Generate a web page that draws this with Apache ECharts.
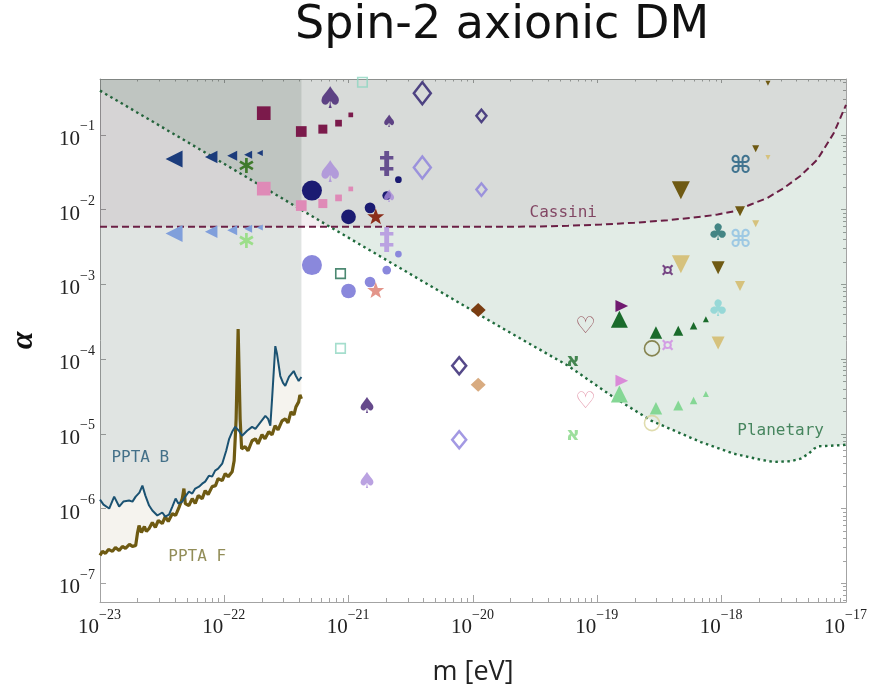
<!DOCTYPE html>
<html><head><meta charset="utf-8">
<script src="https://cdn.jsdelivr.net/npm/echarts@6/dist/echarts.min.js"></script>
<style>html,body{margin:0;padding:0;background:#fff}#c{width:873px;height:691px}</style>
</head><body><div id="c"></div>
<script>
// ---------------- data ----------------
const titleText = 'Spin-2 axionic DM';
const xRange = [1e-23, 1e-17];
const yRange = [5.62e-8, 0.558];

// curves, as [log10 m, log10 alpha]
const cassiniLog = [[-23.0,-2.231],[-21.0,-2.231],[-19.772,-2.231],[-19.504,-2.227],[-19.236,-2.217],[-18.969,-2.200],[-18.702,-2.177],[-18.434,-2.143],[-18.167,-2.097],[-18.033,-2.067],[-17.900,-2.023],[-17.766,-1.933],[-17.632,-1.844],[-17.499,-1.711],[-17.365,-1.547],[-17.231,-1.333],[-17.098,-0.977],[-17.0,-0.600]];
const planetaryLog = [[-23.0,-0.409],[-22.178,-1.213],[-21.175,-2.207],[-20.173,-3.187],[-19.772,-3.580],[-19.236,-4.089],[-18.889,-4.489],[-18.568,-4.823],[-18.167,-5.111],[-17.900,-5.267],[-17.686,-5.347],[-17.579,-5.377],[-17.445,-5.367],[-17.365,-5.333],[-17.301,-5.267],[-17.258,-5.200],[-17.221,-5.167],[-17.125,-5.160],[-17.0,-5.147]];
const pptaBLog = [[-23.000,-5.880],[-22.972,-5.947],[-22.926,-6.000],[-22.886,-5.840],[-22.846,-5.973],[-22.812,-5.907],[-22.766,-5.893],[-22.739,-5.907],[-22.713,-5.840],[-22.683,-5.787],[-22.659,-5.693],[-22.635,-5.827],[-22.605,-5.960],[-22.579,-6.027],[-22.539,-6.093],[-22.499,-6.053],[-22.475,-6.107],[-22.445,-6.080],[-22.418,-5.973],[-22.392,-5.867],[-22.370,-5.933],[-22.338,-5.907],[-22.314,-5.840],[-22.285,-5.773],[-22.258,-5.800],[-22.234,-5.733],[-22.204,-5.707],[-22.178,-5.667],[-22.154,-5.640],[-22.124,-5.560],[-22.098,-5.573],[-22.074,-5.493],[-22.050,-5.467],[-22.017,-5.400],[-21.985,-5.227],[-21.961,-5.067],[-21.937,-4.973],[-21.913,-4.907],[-21.883,-4.960],[-21.857,-5.027],[-21.817,-4.960],[-21.777,-4.907],[-21.750,-4.933],[-21.713,-4.853],[-21.670,-4.760],[-21.648,-4.800],[-21.630,-4.893],[-21.616,-4.533],[-21.590,-3.827],[-21.576,-3.933],[-21.550,-4.227],[-21.528,-4.320],[-21.510,-4.360],[-21.480,-4.240],[-21.442,-4.160],[-21.424,-4.227],[-21.402,-4.293],[-21.380,-4.240]];
const pptaFLog = [[-23.000,-6.627],[-22.980,-6.573],[-22.956,-6.600],[-22.932,-6.547],[-22.900,-6.573],[-22.876,-6.520],[-22.846,-6.560],[-22.820,-6.507],[-22.795,-6.533],[-22.763,-6.480],[-22.739,-6.507],[-22.713,-6.493],[-22.699,-6.333],[-22.686,-6.227],[-22.667,-6.320],[-22.643,-6.240],[-22.627,-6.307],[-22.605,-6.267],[-22.579,-6.187],[-22.555,-6.253],[-22.531,-6.160],[-22.499,-6.200],[-22.475,-6.107],[-22.451,-6.173],[-22.418,-6.067],[-22.392,-6.093],[-22.362,-5.973],[-22.338,-5.867],[-22.325,-5.733],[-22.314,-5.933],[-22.285,-5.960],[-22.258,-5.867],[-22.234,-5.933],[-22.210,-5.827],[-22.178,-5.867],[-22.154,-5.760],[-22.130,-5.813],[-22.098,-5.707],[-22.071,-5.693],[-22.050,-5.600],[-22.017,-5.627],[-21.993,-5.533],[-21.969,-5.573],[-21.937,-5.507],[-21.921,-5.360],[-21.905,-4.800],[-21.889,-3.600],[-21.873,-4.800],[-21.861,-5.200],[-21.833,-5.173],[-21.809,-5.227],[-21.777,-5.093],[-21.750,-5.067],[-21.729,-5.133],[-21.697,-5.013],[-21.673,-5.067],[-21.643,-4.973],[-21.616,-5.013],[-21.592,-4.893],[-21.568,-4.947],[-21.536,-4.827],[-21.510,-4.800],[-21.488,-4.853],[-21.464,-4.707],[-21.440,-4.747],[-21.424,-4.640],[-21.402,-4.573],[-21.392,-4.480],[-21.380,-4.533]];

// markers, as [m (eV), alpha]
const maroonSquares = [[2.075e-22,0.1947],[4.157e-22,0.1107],[6.20e-22,0.1191],[8.29e-22,0.1432],[1.04e-21,0.1848]];
const pinkSquares = [[2.075e-22,0.01905],[4.157e-22,0.01130],[6.20e-22,0.01202],[8.29e-22,0.01432],[1.04e-21,0.01888]];
const navyTriangles = [[3.94e-23,0.04742],[7.84e-23,0.05042],[1.156e-22,0.05248],[1.553e-22,0.05412],[1.928e-22,0.05702]];
const blueTriangles = [[3.94e-23,0.004786],[7.84e-23,0.005043],[1.156e-22,0.005297],[1.553e-22,0.005530],[1.928e-22,0.005754]];
const darkAsterisk = [[1.505e-22,0.03897]];
const lightAsterisk = [[1.505e-22,0.003860]];
const darkSpades = [[7.10e-22,0.2866],[2.111e-21,0.1459],[1.406e-21,2.270e-5]];
const lightSpades = [[7.10e-22,0.02929],[2.111e-21,0.01432],[1.406e-21,2.270e-6]];
const navyDiamonds = [[3.912e-21,0.3597],[1.169e-20,0.1792],[7.745e-21,8.141e-5]];
const lavenderDiamonds = [[3.912e-21,0.03664],[1.169e-20,0.01848],[7.745e-21,8.318e-6]];
const darkDagger = [[2.023e-21,0.03897]];
const lightDagger = [[2.023e-21,0.003778]];
const navyCircles = [[5.065e-22,0.01792],[9.97e-22,0.007989],[1.486e-21,0.01054],[2.023e-21,0.01537],[2.512e-21,0.02512]];
const lavenderCircles = [[5.065e-22,0.001808],[9.97e-22,0.0008141],[1.486e-21,0.001073],[2.023e-21,0.001551],[2.512e-21,0.002535]];
const brownStar = [[1.651e-21,0.008140]];
const salmonStar = [[1.651e-21,0.0008395]];
const darkOpenSquare = [[8.60e-22,0.001389]];
const tealOpenSquares = [[8.60e-22,1.389e-4],[1.291e-21,0.5043]];
const brownDiamond = [[1.101e-20,4.544e-4]];
const tanDiamond = [[1.101e-20,4.544e-5]];
const oliveDownTriangles = [[4.700e-19,0.01809],[9.363e-19,0.001669],[1.405e-18,0.009491],[1.878e-18,0.06506],[2.357e-18,0.4890]];
const tanDownTriangles = [[4.700e-19,0.001848],[9.363e-19,0.0001634],[1.405e-18,0.0009491],[1.878e-18,0.006446],[2.357e-18,0.04980]];
const darkCommand = [[1.424e-18,0.03778]];
const lightCommand = [[1.424e-18,0.003778]];
const darkClub = [[9.363e-19,0.004642]];
const lightClub = [[9.363e-19,4.544e-4]];
const darkCurrency = [[3.677e-19,0.001504]];
const lightCurrency = [[3.677e-19,1.504e-4]];
const purpleFlag = [[1.573e-19,5.137e-4]];
const pinkFlag = [[1.573e-19,5.137e-5]];
const darkUpTriangles = [[1.504e-19,3.413e-4],[2.962e-19,2.270e-4],[4.473e-19,2.384e-4],[5.942e-19,2.780e-4],[7.462e-19,3.413e-4]];
const lightUpTriangles = [[1.504e-19,3.413e-5],[2.962e-19,2.202e-5],[4.473e-19,2.384e-5],[5.942e-19,2.780e-5],[7.462e-19,3.413e-5]];
const darkHeart = [[8.025e-20,2.647e-4]];
const lightHeart = [[8.025e-20,2.696e-5]];
const oliveRing = [[2.751e-19,1.389e-4]];
const tanRing = [[2.751e-19,1.389e-5]];
const darkAleph = [[6.362e-20,9.491e-5]];
const lightAleph = [[6.362e-20,9.491e-6]];

const curveLabelTexts = ['Cassini', 'Planetary', 'PPTA B', 'PPTA F'];
const curveLabelAnchors = [[5.32e-20,0.00912],[2.98e-18,1.096e-5],[2.11e-23,4.79e-6],[6.05e-23,2.29e-7]];

// ---------------- styles ----------------
const C = {cassini: '#6b1f45', planetary: '#1f6b3c', pptaB: '#1b5272', pptaF: '#6e5a12'};
const curveLabelColors = [C.cassini, C.planetary, C.pptaB, '#77702e'];

const STAR = 'path://M0,-10L2.35,-3.24L9.51,-3.09L3.8,1.24L5.88,8.09L0,4L-5.88,8.09L-3.8,1.24L-9.51,-3.09L-2.35,-3.24Z';
const ASTER = 'path://M-9,-50L9,-50L9,50L-9,50Z M38.8,-32.8L47.8,-17.2L-38.8,32.8L-47.8,17.2Z M-47.8,-17.2L-38.8,-32.8L47.8,17.2L38.8,32.8Z';

const markerDefs = [
  {data: maroonSquares, symbol: 'rect', color: '#7b1a4b', sizes: [13.7,10.7,9,6.7,4.7]},
  {data: pinkSquares, symbol: 'rect', color: '#df8ab7', sizes: [13.7,10.7,9,6.7,4.7]},
  {data: navyTriangles, symbol: 'triangle', rotate: 90, color: '#1c3c7c', sizes: [17,12.5,10,8,6]},
  {data: blueTriangles, symbol: 'triangle', rotate: 90, color: '#809fdb', sizes: [17,12.5,10,8,6]},
  {data: darkAsterisk, symbol: ASTER, color: '#3f7a2c', sizes: [15]},
  {data: lightAsterisk, symbol: ASTER, color: '#9cde8a', sizes: [15]},
  {data: darkSpades, glyph: '\u2660', color: '#3f1b6e', sizes: [30,17,22]},
  {data: lightSpades, glyph: '\u2660', color: '#a98bd9', sizes: [30,17,22]},
  {data: navyDiamonds, symbol: 'diamond', open: true, border: 2.5, color: '#2b1b6b', sizes: [[17,22],[10,12.5],[14,17]]},
  {data: lavenderDiamonds, symbol: 'diamond', open: true, border: 2.5, color: '#8c80dc', sizes: [[17,22],[10,12.5],[14,17]]},
  {data: darkDagger, glyph: '\u2021', bold: true, color: '#4a2c7c', sizes: [30]},
  {data: lightDagger, glyph: '\u2021', bold: true, color: '#b090e0', sizes: [30]},
  {data: navyCircles, symbol: 'circle', color: '#1b1b72', sizes: [20,14.7,10.7,8.7,6.7]},
  {data: lavenderCircles, symbol: 'circle', color: '#8a88dc', sizes: [20,14.7,10.7,8.7,6.7]},
  {data: brownStar, symbol: STAR, color: '#8b2e1b', sizes: [17]},
  {data: salmonStar, symbol: STAR, color: '#e3958a', sizes: [17]},
  {data: darkOpenSquare, symbol: 'rect', open: true, border: 1.6, color: '#1f6b4f', sizes: [9.5]},
  {data: tealOpenSquares, symbol: 'rect', open: true, border: 1.6, color: '#8fd6c1', sizes: [9.5, 9.5]},
  {data: brownDiamond, symbol: 'diamond', color: '#7a3d12', sizes: [[15,14]]},
  {data: tanDiamond, symbol: 'diamond', color: '#d8ab80', sizes: [[15,14]]},
  {data: oliveDownTriangles, symbol: 'triangle', rotate: 180, color: '#6f5a13', sizes: [18,13,10,7,5]},
  {data: tanDownTriangles, symbol: 'triangle', rotate: 180, color: '#d6c27d', sizes: [18,13,10,7,5]},
  {data: darkCommand, glyph: '\u2318', bold: true, color: '#1b5a7d', sizes: [24]},
  {data: lightCommand, glyph: '\u2318', bold: true, color: '#8dc0e2', sizes: [24]},
  {data: darkClub, glyph: '\u2663', color: '#1b6b6b', sizes: [23]},
  {data: lightClub, glyph: '\u2663', color: '#85d3d3', sizes: [23]},
  {data: darkCurrency, glyph: '\u00a4', bold: true, color: '#5b1b6b', sizes: [20]},
  {data: lightCurrency, glyph: '\u00a4', bold: true, color: '#cf8ae3', sizes: [20]},
  {data: purpleFlag, symbol: 'triangle', rotate: -90, color: '#701a70', sizes: [[12,12.7]]},
  {data: pinkFlag, symbol: 'triangle', rotate: -90, color: '#da8ad8', sizes: [[12,12.7]]},
  {data: darkUpTriangles, symbol: 'triangle', color: '#1a6b2b', sizes: [17,12.5,10,7.5,6]},
  {data: lightUpTriangles, symbol: 'triangle', color: '#85d795', sizes: [17,12.5,10,7.5,6]},
  {data: darkHeart, glyph: '\u2661', bold: true, color: '#7a1b2b', sizes: [23]},
  {data: lightHeart, glyph: '\u2661', bold: true, color: '#dc7b93', sizes: [23]},
  {data: oliveRing, symbol: 'circle', open: true, border: 1.6, color: '#6f6a2b', sizes: [15]},
  {data: tanRing, symbol: 'circle', open: true, border: 1.6, color: '#d8d39a', sizes: [15]},
  {data: darkAleph, glyph: '\u05d0', bold: true, color: '#1b6b2b', sizes: [19]},
  {data: lightAleph, glyph: '\u05d0', bold: true, color: '#85d785', sizes: [19]}
];

// ---------------- build ----------------
// ECharts rounds tiny axis extents (1e-23) to zero, so the x scale works in units of M_UNIT eV.
const M_UNIT = 1e-23;
const M_UNIT_EXP = Math.round(Math.log10(M_UNIT));
const toPlot = p => [p[0] / M_UNIT, p[1]];
const fromLog = arr => arr.map(p => [Math.pow(10, p[0] - M_UNIT_EXP), Math.pow(10, p[1])]);

function curveSeries(name, logArr, color, width, dash, fillOpacity, z) {
  return {
    type: 'line', name, data: fromLog(logArr), showSymbol: false, symbol: 'none', silent: true,
    lineStyle: {color, width, type: dash},
    areaStyle: {origin: 'end', color, opacity: fillOpacity},
    z
  };
}

function markerSeries(def) {
  if (def.glyph) {
    return {
      type: 'scatter', silent: true, z: 5,
      symbol: 'circle', symbolSize: 1, itemStyle: {color: 'rgba(0,0,0,0)'},
      data: def.data.map((p, i) => ({
        value: toPlot(p),
        label: {show: true, position: 'inside', formatter: def.glyph, color: def.color,
                fontFamily: 'DejaVu Sans', fontWeight: def.bold ? 'bold' : 'normal', fontSize: def.sizes[i]}
      }))
    };
  }
  return {
    type: 'scatter', silent: true, z: 5,
    symbol: def.symbol, symbolRotate: def.rotate || 0, symbolKeepAspect: true,
    symbolSize: (v, params) => def.sizes[params.dataIndex],
    itemStyle: def.open ? {color: 'rgba(0,0,0,0)', borderColor: def.color, borderWidth: def.border}
                        : {color: def.color, opacity: 1},
    data: def.data.map(toPlot)
  };
}

const series = [
  curveSeries('PPTA F', pptaFLog, C.pptaF, 3.2, 'solid', 0.07, 1),
  curveSeries('PPTA B', pptaBLog, C.pptaB, 2, 'solid', 0.09, 1),
  curveSeries('Planetary', planetaryLog, C.planetary, 2.4, [2.5, 3.5], 0.13, 2),
  curveSeries('Cassini', cassiniLog, C.cassini, 2, [7, 4], 0.08, 3),
  {
    type: 'scatter', silent: true, z: 6, symbol: 'circle', symbolSize: 1,
    itemStyle: {color: 'rgba(0,0,0,0)'},
    data: curveLabelAnchors.map((p, i) => ({
      value: toPlot(p),
      label: {show: true, position: 'inside', formatter: curveLabelTexts[i], color: curveLabelColors[i],
              fontFamily: 'DejaVu Sans Mono', fontSize: 16}
    }))
  }
].concat(markerDefs.map(markerSeries));

function expLabel(e) {
  const s = (e < 0 ? '\u2212' + (-e) : String(e));
  return '{b|10}{' + (s.length > 2 ? 's2' : 's1') + '|' + s + '}';
}
const xTickLabel = v => expLabel(Math.round(Math.log10(v)) + M_UNIT_EXP);
const yTickLabel = v => expLabel(Math.round(Math.log10(v)));
const labelRich = {
  b: {fontFamily: 'Liberation Serif', fontSize: 21, color: '#222', lineHeight: 30, verticalAlign: 'bottom', width: 21, align: 'left'},
  s1: {fontFamily: 'Liberation Serif', fontSize: 14, color: '#222', lineHeight: 30, verticalAlign: 'top', width: 16, align: 'left'},
  s2: {fontFamily: 'Liberation Serif', fontSize: 14, color: '#222', lineHeight: 30, verticalAlign: 'top', width: 23, align: 'left'}
};
const axisLineStyle = {color: '#a3a3a3', width: 1};
const xMin = xRange[0] / M_UNIT, xMax = xRange[1] / M_UNIT;

const option = {
  animation: false,
  backgroundColor: '#fff',
  title: {
    text: titleText, left: 290, top: -2,
    textStyle: {fontFamily: 'DejaVu Sans', fontWeight: 'normal', fontSize: 46, color: '#111'}
  },
  grid: {left: 97.5, top: 79, width: 748.5, height: 523.7},
  xAxis: [
    {type: 'log', logBase: 10, min: xMin, max: xMax, position: 'bottom',
     name: 'm [eV]', nameLocation: 'middle', nameGap: 57,
     nameTextStyle: {fontFamily: 'Open Sans', fontSize: 27, color: '#222'},
     axisLine: {lineStyle: axisLineStyle},
     axisTick: {inside: true, length: 7, lineStyle: axisLineStyle},
     minorTick: {show: true, splitNumber: 9, length: 4, lineStyle: axisLineStyle},
     splitLine: {show: false}, minorSplitLine: {show: false},
     axisLabel: {formatter: xTickLabel, rich: labelRich, margin: 6}},
    {type: 'log', logBase: 10, min: xMin, max: xMax, position: 'top',
     axisLine: {lineStyle: axisLineStyle},
     axisTick: {inside: true, length: 4, lineStyle: axisLineStyle},
     minorTick: {show: true, splitNumber: 9, length: 2.5, lineStyle: axisLineStyle},
     splitLine: {show: false}, axisLabel: {show: false}}
  ],
  yAxis: [
    {type: 'log', logBase: 10, min: yRange[0], max: yRange[1], position: 'left',
     name: '\u03b1', nameLocation: 'middle', nameGap: 60, nameRotate: 90,
     nameTextStyle: {fontFamily: 'Liberation Serif', fontStyle: 'italic', fontWeight: 'bold', fontSize: 32, color: '#111'},
     axisLine: {lineStyle: axisLineStyle},
     axisTick: {inside: true, length: 6, lineStyle: axisLineStyle},
     splitLine: {show: false},
     axisLabel: {formatter: yTickLabel, rich: labelRich, margin: 4, align: 'right', showMinLabel: false, showMaxLabel: false}},
    {type: 'log', logBase: 10, min: yRange[0], max: yRange[1], position: 'right',
     axisLine: {lineStyle: axisLineStyle},
     axisTick: {inside: true, length: 5, lineStyle: axisLineStyle},
     minorTick: {show: true, splitNumber: 9, length: 3, lineStyle: axisLineStyle},
     splitLine: {show: false}, axisLabel: {show: false}}
  ],
  series
};

const chart = echarts.init(document.getElementById('c'), null, {renderer: 'canvas'});
chart.setOption(option);
</script>
</body></html>
